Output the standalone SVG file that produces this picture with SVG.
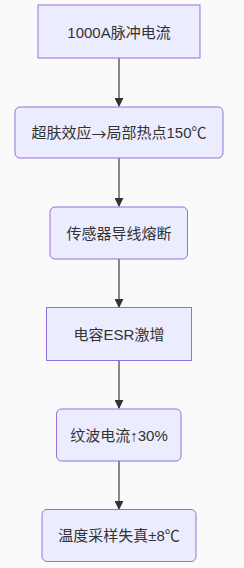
<svg xmlns="http://www.w3.org/2000/svg" width="244" height="568" viewBox="0 0 244 568">
<defs>
<style>
.n{fill:#ECECFF;stroke:#9370DB;stroke-width:1}
.t{font-family:"Liberation Sans","Noto Sans CJK SC",sans-serif;font-size:15px;fill:#333;text-anchor:middle;dominant-baseline:central}
.cjk{font-family:"Noto Sans CJK SC",sans-serif}
.e{stroke:#888;stroke-width:2;fill:none}
</style>
<marker id="ah" viewBox="0 0 10 10" refX="9" refY="5" markerWidth="9" markerHeight="9" markerUnits="userSpaceOnUse" orient="auto"><path d="M0,0L10,5L0,10z" fill="#333"/></marker>
</defs>
<rect width="244" height="568" fill="#fafafa"/>
<g id="edges">
<path class="e" d="M119,58V106" marker-end="url(#ah)"/>
<path class="e" d="M119,158V206" marker-end="url(#ah)"/>
<path class="e" d="M119,259V307" marker-end="url(#ah)"/>
<path class="e" d="M119,360V408" marker-end="url(#ah)"/>
<path class="e" d="M119,461V509" marker-end="url(#ah)"/>
</g>
<g id="n1"><rect class="n" x="38" y="5" width="162" height="53"/><text class="t" x="119" y="32">1000A脉冲电流</text></g>
<g id="n2"><rect class="n" x="15" y="107" width="208" height="51" rx="5"/><text class="t" x="119" y="132.5">超肤效应<tspan class="cjk">→</tspan>局部热点150℃</text></g>
<g id="n3"><rect class="n" x="50" y="207" width="137.5" height="52" rx="5"/><text class="t" x="119" y="233">传感器导线熔断</text></g>
<g id="n4"><rect class="n" x="46.5" y="307.5" width="145" height="53"/><text class="t" x="119" y="334">电容ESR激增</text></g>
<g id="n5"><rect class="n" x="56.5" y="409" width="124.5" height="52" rx="5"/><text class="t" x="119" y="435">纹波电流↑30%</text></g>
<g id="n6"><rect class="n" x="42" y="509.5" width="154" height="52" rx="5"/><text class="t" x="119" y="535.5">温度采样失真±8℃</text></g>
</svg>
